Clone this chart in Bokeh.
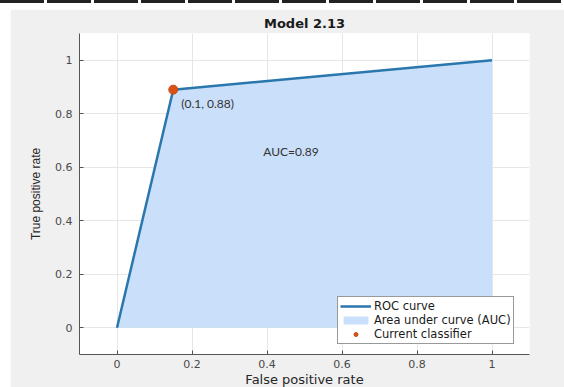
from bokeh.plotting import figure
from bokeh.models import FixedTicker, Legend, LegendItem, Div, Label, Range1d
from bokeh.layouts import column
from bokeh.embed import file_html
from bokeh.resources import INLINE

# ---- data ----
fpr = [0.0, 0.15, 1.0]
tpr = [0.0, 0.89, 1.0]
baseline = [0.0, 0.0, 0.0]
classifier_fpr = [0.15]
classifier_tpr = [0.89]
point_label = "(0.1, 0.88)"
auc_label = "AUC=0.89"
auc_label_pos = [0.39, 0.66]
x_ticks = [0, 0.2, 0.4, 0.6, 0.8, 1]
x_tick_labels = ["0", "0.2", "0.4", "0.6", "0.8", "1"]
y_ticks = [0, 0.2, 0.4, 0.6, 0.8, 1]
y_tick_labels = ["0", "0.2", "0.4", "0.6", "0.8", "1"]
title_text = "Model 2.13"
x_label = "False positive rate"
y_label = "True positive rate"
legend_labels = ["ROC curve", "Area under curve (AUC)", "Current classifier"]

p = figure(frame_width=450, frame_height=321,
           x_range=Range1d(-0.1, 1.1), y_range=Range1d(-0.1, 1.1),
           output_backend="svg", toolbar_location=None,
           min_border_left=69, min_border_right=35, min_border_top=24, min_border_bottom=33,
           background_fill_color="white", border_fill_color="#f0f0f0",
           outline_line_color=None)
p.margin = (0, 0, 0, 10)

p.title.text = title_text
p.title.align = "center"
p.title.standoff = 6
p.title.text_font = "DejaVu Sans"
p.title.text_font_size = "13px"
p.title.text_font_style = "bold"
p.title.text_color = "#1a1a1a"

for ax, ticks, labels, lab in ((p.xaxis[0], x_ticks, x_tick_labels, x_label),
                               (p.yaxis[0], y_ticks, y_tick_labels, y_label)):
    ax.ticker = FixedTicker(ticks=ticks)
    ax.major_label_overrides = {t: l for t, l in zip(ticks, labels)}
    ax.axis_label = lab
    ax.axis_line_color = "#555555"
    ax.major_tick_line_color = "#555555"
    ax.major_tick_in = 4
    ax.major_tick_out = 0
    ax.minor_tick_line_color = None
    ax.major_label_text_font = "DejaVu Sans"
    ax.major_label_text_font_size = "11px"
    ax.major_label_text_color = "#4a4a4a"
    ax.axis_label_text_font_style = "normal"
    ax.axis_label_text_color = "#262626"

p.xaxis.major_label_standoff = 5
p.xaxis.axis_label_standoff = 1
p.xaxis.axis_label_text_font = "DejaVu Sans"
p.xaxis.axis_label_text_font_size = "13px"
p.yaxis.major_label_standoff = 7
p.yaxis.axis_label_standoff = 9
p.yaxis.axis_label_text_font = "Liberation Sans"
p.yaxis.axis_label_text_font_size = "12px"

p.xgrid.ticker = FixedTicker(ticks=x_ticks)
p.ygrid.ticker = FixedTicker(ticks=y_ticks)
p.grid.grid_line_color = "#e6e6e6"

area_r = p.varea(x=fpr, y1=baseline, y2=tpr, fill_color="#cadff9")
line_r = p.line(x=fpr, y=tpr, line_color="#2a77ad", line_width=2.5)
pt_r = p.scatter(x=classifier_fpr, y=classifier_tpr, size=9, fill_color="#d95319",
                 line_color="#c84a15")

p.add_layout(Label(x=classifier_fpr[0], y=classifier_tpr[0], x_offset=8, y_offset=-14,
                   text=point_label, text_font="Lato", text_font_size="12px",
                   text_color="#333333", text_baseline="middle"))
p.add_layout(Label(x=auc_label_pos[0], y=auc_label_pos[1], text=auc_label,
                   text_font="Lato", text_font_size="12px",
                   text_color="#333333", text_baseline="middle"))

legend = Legend(items=[LegendItem(label=legend_labels[0], renderers=[line_r]),
                       LegendItem(label=legend_labels[1], renderers=[area_r]),
                       LegendItem(label=legend_labels[2], renderers=[pt_r])],
                location=(258, 10))
legend.glyph_width = 31
legend.glyph_height = 10
legend.label_height = 10
legend.label_text_font = "DejaVu Sans"
legend.label_text_font_size = "11.5px"
legend.label_text_line_height = 1.0
legend.label_text_color = "#1a1a1a"
legend.label_standoff = 3
legend.spacing = 0
legend.padding = 2
legend.margin = 0
legend.border_line_color = "#333333"
legend.background_fill_color = "white"
legend.background_fill_alpha = 1
p.add_layout(legend, "center")

top_line = Div(text="", width=564, height=9, margin=(0, 0, 0, 0),
               styles={"height": "9px", "min-height": "9px", "max-height": "9px",
                       "overflow": "hidden", "padding": "0", "box-sizing": "border-box",
                       "background": "repeating-linear-gradient(90deg,#222 0 44px,#ffffff 44px 47px) top left / 100% 3px no-repeat, #ffffff"})

layout = column(top_line, p, spacing=0)
open("out.html", "w").write(file_html(layout, INLINE))
